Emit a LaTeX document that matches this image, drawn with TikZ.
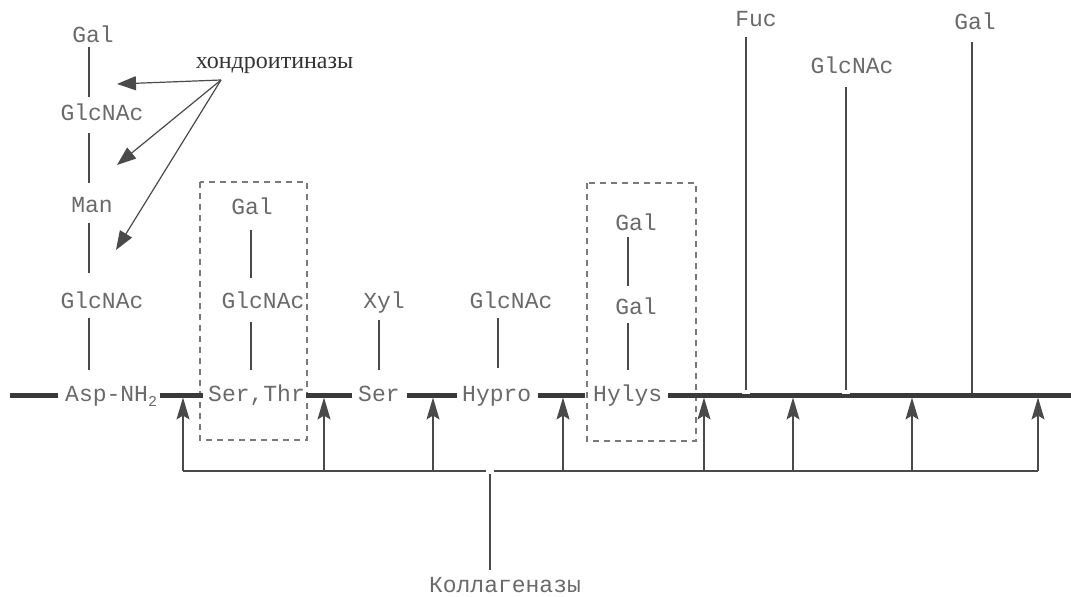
\documentclass[tikz,border=0pt]{standalone}
\usepackage{fontspec}
\newfontfamily\cour{Liberation Mono}
\newfontfamily\tms{Liberation Serif}
\usetikzlibrary{arrows.meta}
\definecolor{txt}{HTML}{6A6A6A}
\definecolor{ln}{HTML}{4A4A4A}
\definecolor{barc}{HTML}{3A3A3A}
\definecolor{dsh}{HTML}{7A7A7A}
\tikzset{
 sug/.style={font=\cour\fontsize{23}{23}\selectfont, text=txt, inner sep=0pt, text height=13pt, text depth=0pt, anchor=base},
 res/.style={sug, anchor=base west},
 link/.style={draw=ln, line width=1.4pt},
 thin link/.style={draw=ln, line width=1.2pt},
 bar/.style={draw=barc, line width=5pt},
 dbox/.style={draw=dsh, line width=1.3pt, dash pattern=on 6pt off 5pt},
 coll/.style={draw=ln, line width=1.2pt, -{Stealth[length=22pt,width=13pt,inset=4pt]}},
 chd/.style={draw=ln, line width=1.2pt, -{Triangle[length=19pt,width=14pt]}},
}
\begin{document}
\begin{tikzpicture}[x=1pt,y=-1pt]
\useasboundingbox[fill=white] (0,0) rectangle (1071,597);

% x positions of the vertical links
\coordinate (lA) at (89,0);
\coordinate (lB) at (251,0);
\coordinate (lC) at (379,0);
\coordinate (lD) at (498,0);
\coordinate (lE) at (628,0);

% dashed boxes
\draw[dbox] (200,182) rectangle (307,440);
\draw[dbox] (587,183) rectangle (696,441);

% chain on Asp-NH2
\node[sug] (gA1) at (93,42.5) {Gal};
\node[sug] (gA2) at (102,120.5) {GlcNAc};
\node[sug] (gA3) at (92,212) {Man};
\node[sug] (gA4) at (102,308) {GlcNAc};
\node[res] (asp) at (65,401) {Asp-NH\raisebox{-5pt}{\fontsize{15}{15}\selectfont 2}};
\draw[link, shorten <=4.5pt, shorten >=10.5pt] (gA1.south -| lA) -- (gA2.north -| lA);
\draw[link, shorten <=12.5pt, shorten >=16pt] (gA2.south -| lA) -- (gA3.north -| lA);
\draw[link, shorten <=11pt, shorten >=22pt] (gA3.south -| lA) -- (gA4.north -| lA);
\draw[link, shorten <=10pt, shorten >=18pt] (gA4.south -| lA) -- (asp.north -| lA);

% Ser,Thr
\node[sug] (gB1) at (252,214.5) {Gal};
\node[sug] (gB2) at (263,308.5) {GlcNAc};
\node[res] (serthr) at (208,401) {Ser,Thr};
\draw[link, shorten <=15.5pt, shorten >=17.5pt] (gB1.south -| lB) -- (gB2.north -| lB);
\draw[link, shorten <=13.5pt, shorten >=18pt] (gB2.south -| lB) -- (serthr.north -| lB);

% Ser - Xyl
\node[sug] (xyl) at (384,308.5) {Xyl};
\node[res] (ser) at (358,401) {Ser};
\draw[link, shorten <=11.5pt, shorten >=18pt] (xyl.south -| lC) -- (ser.north -| lC);

% Hypro - GlcNAc
\node[sug] (gD) at (511,308.5) {GlcNAc};
\node[res] (hypro) at (462,401) {Hypro};
\draw[link, shorten <=9.5pt, shorten >=20pt] (gD.south -| lD) -- (hypro.north -| lD);

% Hylys
\node[sug] (gE1) at (636,230.5) {Gal};
\node[sug] (gE2) at (636,314) {Gal};
\node[res] (hylys) at (593,401) {Hylys};
\draw[link, shorten <=6.5pt, shorten >=15pt] (gE1.south -| lE) -- (gE2.north -| lE);
\draw[link, shorten <=9pt, shorten >=18pt] (gE2.south -| lE) -- (hylys.north -| lE);

% main bar
\coordinate (bL) at (10,395);
\coordinate (bR) at (1071,395);
\draw[bar, shorten >=7pt] (bL) -- (asp.west |- bL);
\draw[bar, shorten <=2.5pt, shorten >=5pt] (asp.east |- bL) -- (serthr.west |- bL);
\draw[bar, shorten <=0.5pt, shorten >=6pt] (serthr.east |- bL) -- (ser.west |- bL);
\draw[bar, shorten <=7.5pt, shorten >=5pt] (ser.east |- bL) -- (hypro.west |- bL);
\draw[bar, shorten <=7pt, shorten >=8pt] (hypro.east |- bL) -- (hylys.west |- bL);
\draw[bar, shorten <=6pt] (hylys.east |- bL) -- (bR);

% right-hand sugars
\node[sug] (fuc) at (756,26.5) {Fuc};
\node[sug] (gG) at (852,73.5) {GlcNAc};
\node[sug] (gH) at (975,29.5) {Gal};
\coordinate (jF) at (746,390);
\coordinate (jG) at (846,390);
\coordinate (jH) at (972,392.5);
\fill[white] (742,390) rectangle (750,394);
\fill[white] (842,390) rectangle (850,394);
\draw[thin link, shorten <=10.5pt] (fuc.south -| jF) -- (jF);
\draw[thin link, shorten <=13.5pt] (gG.south -| jG) -- (jG);
\draw[thin link, shorten <=12.5pt] (gH.south -| jH) -- (jH);

% chondroitinases
\node[font=\tms\fontsize{24}{24}\selectfont, text=black!80, inner sep=0pt, anchor=base] (chond) at (274.5,68) {хондроитиназы};
\coordinate (chsrc) at (221,80);
\coordinate (tA1) at (117,84);
\coordinate (tA2) at (117,165);
\coordinate (tA3) at (116,250);
\draw[chd] (chsrc) -- (tA1);
\draw[chd] (chsrc) -- (tA2);
\draw[chd] (chsrc) -- (tA3);

% collagenases
\coordinate (tipy) at (0,397.5);
\coordinate (k1) at (183,471);
\coordinate (k2) at (324,471);
\coordinate (k3) at (433,471);
\coordinate (k4) at (563,471);
\coordinate (k5) at (704,471);
\coordinate (k6) at (793,471);
\coordinate (k7) at (912,471);
\coordinate (k8) at (1038,471);
\coordinate (gap1) at (486,471);
\coordinate (gap2) at (494,471);
\coordinate (kj) at (490,474);
\draw[thin link] (k1) -- (gap1);
\draw[thin link] (gap2) -- (k8);
\draw[coll] (k1) -- (k1 |- tipy);
\draw[coll, line width=1.8pt] (k2) -- (k2 |- tipy);
\draw[coll] (k3) -- (k3 |- tipy);
\draw[coll, line width=1.8pt] (k4) -- (k4 |- tipy);
\draw[coll] (k5) -- (k5 |- tipy);
\draw[coll] (k6) -- (k6 |- tipy);
\draw[coll] (k7) -- (k7 |- tipy);
\draw[coll] (k8) -- (k8 |- tipy);
\node[sug] (kol) at (505,592) {Коллагеназы};
\draw[thin link, shorten >=9pt] (kj) -- (kol.north -| kj);
\end{tikzpicture}
\end{document}
